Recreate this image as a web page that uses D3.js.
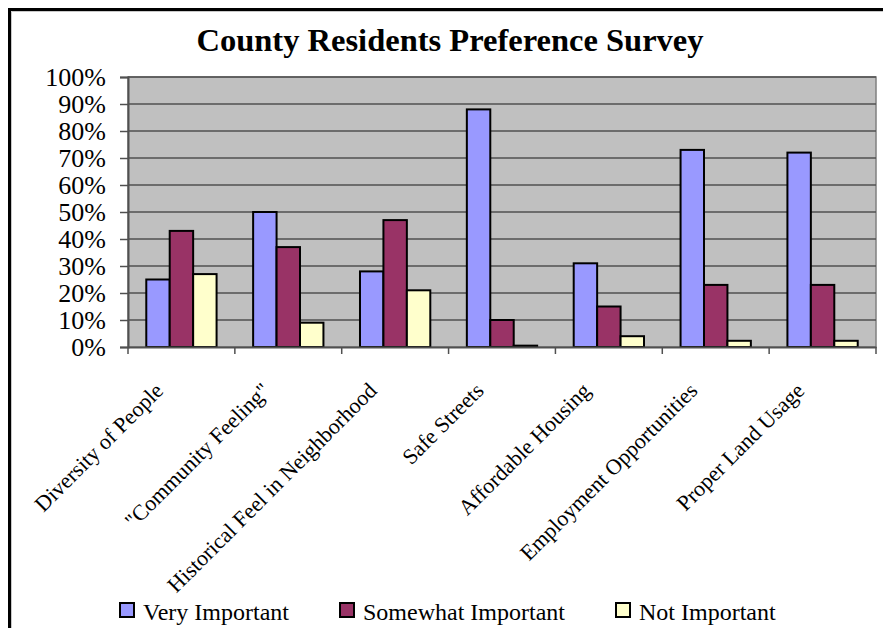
<!DOCTYPE html>
<html>
<head>
<meta charset="utf-8">
<script src="https://cdn.jsdelivr.net/npm/d3@7"></script>
<style>
  html, body { margin: 0; padding: 0; background: #fff; }
  svg { display: block; }
  text { font-family: "Liberation Serif", "DejaVu Serif", serif; fill: #000; }
</style>
</head>
<body>
<svg id="chart" width="883" height="628"></svg>
<script>
const categories = ["Diversity of People", "\"Community Feeling\"", "Historical Feel in Neighborhood", "Safe Streets", "Affordable Housing", "Employment Opportunities", "Proper Land Usage"];
const seriesNames = ["Very Important", "Somewhat Important", "Not Important"];
const veryImportant = [0.25, 0.50, 0.28, 0.88, 0.31, 0.73, 0.72];
const somewhatImportant = [0.43, 0.37, 0.47, 0.10, 0.15, 0.23, 0.23];
const notImportant = [0.27, 0.09, 0.21, 0.005, 0.04, 0.023, 0.023];
const seriesColors = ["#9999FF", "#993366", "#FFFFCC"];
const yTicks = [0, 0.1, 0.2, 0.3, 0.4, 0.5, 0.6, 0.7, 0.8, 0.9, 1.0];
const title = "County Residents Preference Survey";

const seriesValues = [veryImportant, somewhatImportant, notImportant];
const svg = d3.select("#chart");

// outer frame (top & left border)
svg.append("path").attr("d", "M9.5,628 V9.5 H883").attr("fill", "none").attr("stroke", "#000").attr("stroke-width", 3);
svg.append("path").attr("d", "M11.5,628 V11.5 H883").attr("fill", "none").attr("stroke", "#c8c8c8").attr("stroke-width", 1);

const plot = { left: 128, right: 876, top: 77, bottom: 347 };

const x0 = d3.scaleBand().domain(categories).range([plot.left, plot.right]).padding(0);
const x1 = d3.scaleBand().domain(seriesNames).range([0, x0.bandwidth()]).paddingInner(0).paddingOuter(0.78);
const y = d3.scaleLinear().domain([0, 1]).range([plot.bottom, plot.top]);

// title
svg.append("text")
  .attr("x", 450).attr("y", 51)
  .attr("text-anchor", "middle")
  .attr("font-size", 32.5).attr("font-weight", "bold")
  .text(title);

// plot background
svg.append("rect")
  .attr("x", plot.left).attr("y", plot.top)
  .attr("width", plot.right - plot.left).attr("height", plot.bottom - plot.top)
  .attr("fill", "#C0C0C0").attr("stroke", "#808080").attr("stroke-width", 1.5);

// gridlines
svg.append("g").selectAll("line").data(yTicks.filter(d => d > 0))
  .join("line")
  .attr("x1", plot.left).attr("x2", plot.right)
  .attr("y1", d => y(d)).attr("y2", d => y(d))
  .attr("stroke", "#505050").attr("stroke-width", 1.5);

// y axis
const yAxis = d3.axisLeft(y).tickValues(yTicks).tickFormat(d3.format(".0%")).tickSize(8).tickPadding(14);
const gy = svg.append("g").attr("transform", `translate(${plot.left},0)`).call(yAxis);
gy.select(".domain").attr("stroke", "#505050").attr("stroke-width", 2);
gy.selectAll(".tick line").attr("stroke", "#505050").attr("stroke-width", 1.5);
gy.selectAll(".tick text").attr("font-size", 26).attr("font-family", "Liberation Serif").attr("fill", "#000").attr("dy", "0.34em");

// bars
const groups = svg.append("g").selectAll("g").data(categories).join("g")
  .attr("transform", d => `translate(${x0(d)},0)`);
groups.selectAll("rect")
  .data((c, i) => seriesNames.map((s, j) => ({ s, v: seriesValues[j][i], c: seriesColors[j] })))
  .join("rect")
  .attr("x", d => x1(d.s)).attr("width", x1.bandwidth())
  .attr("y", d => y(d.v)).attr("height", d => y(0) - y(d.v))
  .attr("fill", d => d.c).attr("stroke", "#000").attr("stroke-width", 2);

// x axis
const xAxis = d3.axisBottom(x0).tickSize(0).tickFormat("");
const gx = svg.append("g").attr("transform", `translate(0,${plot.bottom})`).call(xAxis);
gx.select(".domain").attr("stroke", "#505050").attr("stroke-width", 2);
// category boundary tick marks
svg.append("g").selectAll("line").data(categories.map(c => x0(c)).concat([plot.right]))
  .join("line")
  .attr("x1", d => d).attr("x2", d => d)
  .attr("y1", plot.bottom).attr("y2", plot.bottom + 7)
  .attr("stroke", "#505050").attr("stroke-width", 1.5);

// x labels rotated
svg.append("g").selectAll("text").data(categories).join("text")
  .attr("transform", d => `translate(${x0(d) + x0.bandwidth() / 2 - 17},392) rotate(-45)`)
  .attr("text-anchor", "end")
  .attr("font-size", 22)
  .text(d => d);

// legend
const legendX = [120, 340, 616];
const lg = svg.append("g").selectAll("g").data(seriesNames).join("g")
  .attr("transform", (d, i) => `translate(${legendX[i]},603)`);
lg.append("rect").attr("x", 0).attr("y", 0).attr("width", 14).attr("height", 14)
  .attr("fill", (d, i) => seriesColors[i]).attr("stroke", "#000").attr("stroke-width", 2);
lg.append("text").attr("x", 23).attr("y", 17).attr("font-size", 24).text(d => d);
</script>
</body>
</html>
